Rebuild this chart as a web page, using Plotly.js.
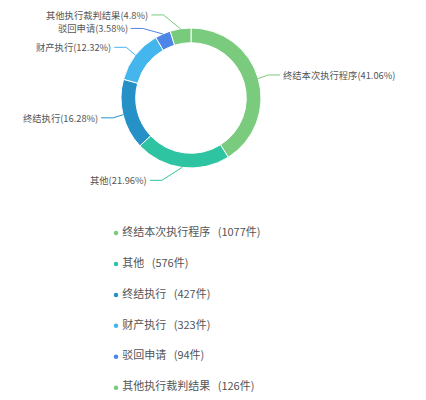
<!DOCTYPE html>
<html>
<head>
<meta charset="utf-8">
<script src="https://cdn.plot.ly/plotly-3.0.1.min.js"></script>
<style>
  html, body { margin: 0; padding: 0; background: #fff; }
  #chart { width: 426px; height: 400px; }
</style>
</head>
<body>
<div id="chart"></div>
<script>
// case outcome categories and counts
const names = ['终结本次执行程序', '其他', '终结执行', '财产执行', '驳回申请', '其他执行裁判结果'];
const counts = [1077, 576, 427, 323, 94, 126];
const colors = ['#7acb7e', '#2fc4a1', '#2591c7', '#45b5ee', '#4d86e6', '#77cb7b'];

const W = 426, H = 400;
// donut geometry in pixels
const cx = 191, cy = 98, R = 70;
const FONT = '"Noto Sans CJK SC", "Microsoft YaHei", sans-serif';

const total = counts.reduce((a, b) => a + b, 0);
const px = x => x / W;
const py = y => 1 - y / H;

// percentages to 2 decimals, largest remainder so they add up to 100
let raw = counts.map(c => c / total * 10000);
let pct = raw.map(Math.floor);
let left100 = 10000 - pct.reduce((a, b) => a + b, 0);
raw.map((r, i) => [r - Math.floor(r), i]).sort((a, b) => b[0] - a[0])
    .slice(0, left100).forEach(d => pct[d[1]] += 1);
pct = pct.map(p => p / 100);

// outside labels with two-part leader lines, like echarts
let labels = [];
let acc = 0;
for (let i = 0; i < counts.length; i++) {
    let frac = counts[i] / total;
    let mid = (acc + frac / 2) * 2 * Math.PI;
    acc += frac;
    labels.push({
        i: i,
        sx: cx + R * Math.sin(mid), sy: cy - R * Math.cos(mid),
        y: cy - (R + 13) * Math.cos(mid),
        right: Math.sin(mid) >= 0,
        text: names[i] + '(' + pct[i] + '%)'
    });
}
// push apart labels on the left side
let leftSide = labels.filter(l => !l.right).sort((a, b) => a.y - b.y);
leftSide[0].y -= 1;
for (let k = 1; k < leftSide.length; k++) {
    if (leftSide[k].y - leftSide[k - 1].y < 13.5) leftSide[k].y = leftSide[k - 1].y + 13.5;
}

let shapes = [], annotations = [];
labels.forEach(l => {
    let dir = l.right ? 1 : -1;
    let dy = l.y - cy;
    let ex = cx + dir * Math.sqrt(Math.max(92 * 92 - dy * dy, 0));
    let kx = ex - dir * 12;
    shapes.push({
        type: 'path', xref: 'paper', yref: 'paper',
        path: 'M ' + px(l.sx) + ' ' + py(l.sy) + ' L ' + px(kx) + ' ' + py(l.y) + ' L ' + px(ex) + ' ' + py(l.y),
        line: { color: colors[l.i], width: 1 }
    });
    annotations.push({
        xref: 'paper', yref: 'paper', x: px(ex + dir * 2), y: py(l.y),
        xanchor: l.right ? 'left' : 'right', yanchor: 'middle',
        text: l.text, showarrow: false, borderpad: 0,
        font: { family: FONT, size: 9.3, color: '#555' }
    });
});

let pie = {
    type: 'pie',
    values: counts,
    labels: names,
    marker: { colors: colors, line: { color: '#fff', width: 1 } },
    hole: 0.79,
    sort: false,
    direction: 'clockwise',
    rotation: 0,
    textinfo: 'none',
    showlegend: false,
    domain: { x: [px(cx - R), px(cx + R)], y: [py(cy + R), py(cy - R)] }
};

// legend list drawn as a marker+text trace
let legendText = names.map((n, i) => '\u00a0' + n + '\u00a0\u00a0\u00a0(' + counts[i] + '件)');
let legend = {
    type: 'scatter',
    mode: 'markers+text',
    x: names.map(() => 0),
    y: names.map((n, i) => i),
    text: legendText,
    textposition: 'middle right',
    marker: { color: colors, size: 4.5 },
    textfont: { family: FONT, size: 11, color: '#555' },
    hoverinfo: 'none',
    showlegend: false,
    cliponaxis: false
};

let layout = {
    width: W, height: H,
    margin: { l: 0, r: 0, t: 0, b: 0 },
    paper_bgcolor: '#fff', plot_bgcolor: '#fff',
    showlegend: false,
    xaxis: { domain: [px(116), 1], range: [0, 10], visible: false, fixedrange: true },
    yaxis: { domain: [0, py(221)], range: [5.4, -0.39], visible: false, fixedrange: true },
    shapes: shapes,
    annotations: annotations
};

Plotly.newPlot('chart', [pie, legend], layout, { displayModeBar: false, staticPlot: true });
</script>
</body>
</html>
